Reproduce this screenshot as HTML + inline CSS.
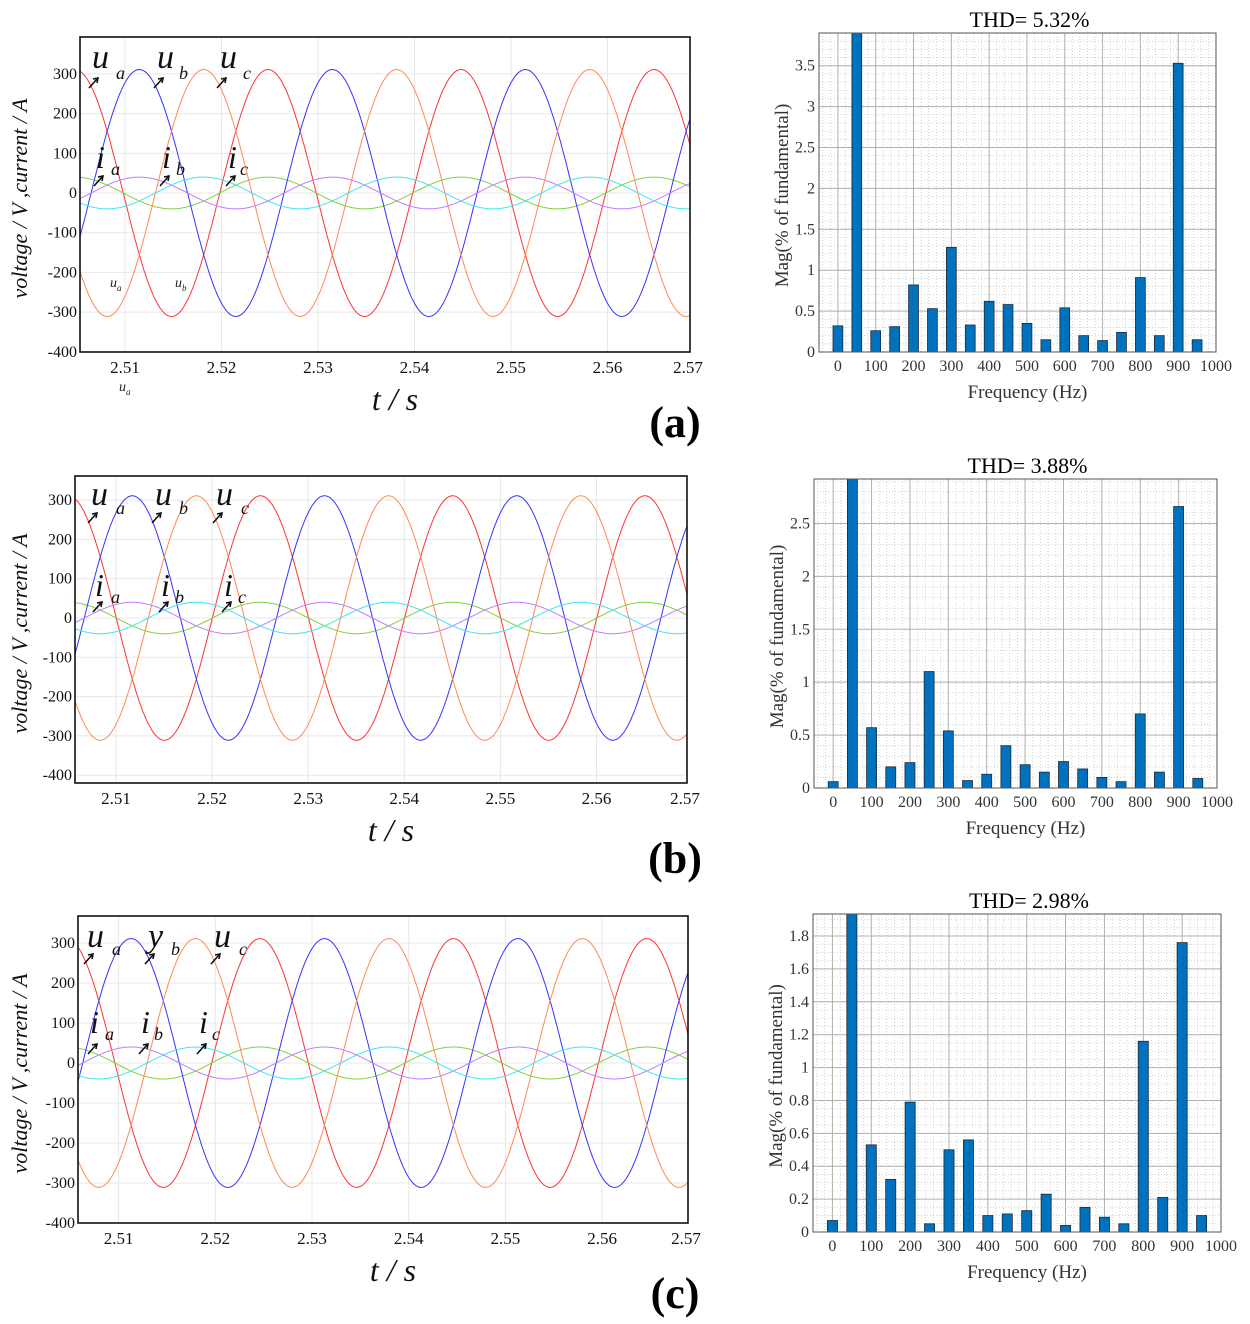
<!DOCTYPE html>
<html><head><meta charset="utf-8"><style>
html,body{margin:0;padding:0;background:#fff;}
svg{display:block;}
text{font-family:"Liberation Serif",serif;}
</style></head><body>
<svg id="fig" width="1250" height="1324" viewBox="0 0 1250 1324" xmlns="http://www.w3.org/2000/svg"></svg>
<script>
// ---------- data ----------
const timeTicks = [2.51, 2.52, 2.53, 2.54, 2.55, 2.56, 2.57];
const voltTicks = [300, 200, 100, 0, -100, -200, -300, -400];
const phaseNames = ['a', 'b', 'c'];
const voltageAmplitude = [311, 311, 311];
const currentAmplitude = [40, 40, 40];
const gridFrequency = [50, 50, 50];
const redPeakTime = [2.52482, 2.52503, 2.52462];   // time of a u_a peak per panel
const freqCategories = [0,50,100,150,200,250,300,350,400,450,500,550,600,650,700,750,800,850,900,950];
const freqTickLabels = [0,100,200,300,400,500,600,700,800,900,1000];
const magA = [0.32,100,0.26,0.31,0.82,0.53,1.28,0.33,0.62,0.58,0.35,0.15,0.54,0.20,0.14,0.24,0.91,0.20,3.53,0.15];
const magB = [0.06,100,0.57,0.20,0.24,1.10,0.54,0.07,0.13,0.40,0.22,0.15,0.25,0.18,0.10,0.06,0.70,0.15,2.66,0.09];
const magC = [0.07,100,0.53,0.32,0.79,0.05,0.50,0.56,0.10,0.11,0.13,0.23,0.04,0.15,0.09,0.05,1.16,0.21,1.76,0.10];
const thdLabels = ['THD= 5.32%','THD= 3.88%','THD= 2.98%'];
const magTicksA = [0,0.5,1,1.5,2,2.5,3,3.5];
const magTicksB = [0,0.5,1,1.5,2,2.5];
const magTicksC = [0,0.2,0.4,0.6,0.8,1,1.2,1.4,1.6,1.8];

const NS='http://www.w3.org/2000/svg';
const svg=document.getElementById('fig');
function mk(tag, attrs, parent){const e=document.createElementNS(NS,tag);for(const k in attrs)e.setAttribute(k,attrs[k]);(parent||svg).appendChild(e);return e;}
function txt(s, attrs, parent){const e=mk('text',attrs,parent);e.textContent=s;return e;}

// ---------- waveform panels ----------
const leftGeo=[
 {L:80,R:690,T:37,B:352,y0:193,ky:0.397,x0:125,kx:9650,letter:'(a)',ly:437},
 {L:75,R:687,T:476,B:783,y0:618,ky:0.393,x0:116,kx:9610,letter:'(b)',ly:873},
 {L:78,R:688,T:916,B:1223,y0:1063,ky:0.400,x0:118.6,kx:9670,letter:'(c)',ly:1308}
];
const vColors=['#ff3333','#3333ff','#ff8a55'];
const iColors=['#7fd23f','#c27cff','#3fe6ee'];
leftGeo.forEach((g,p)=>{
  const grp=mk('g',{});
  
  
  const xs=t=>g.x0+(t-2.51)*g.kx, ys=v=>g.y0-v*g.ky;
  const tMin=2.51+(g.L-g.x0)/g.kx, tMax=2.51+(g.R-g.x0)/g.kx;
  const cid='clipL'+p;
  const cp=mk('clipPath',{id:cid},grp); mk('rect',{x:g.L,y:g.T,width:g.R-g.L,height:g.B-g.T},cp);
  voltTicks.forEach(v=>{
    const l=mk('line',{x1:g.L,x2:g.R,y1:ys(v),y2:ys(v),stroke:'#e8e8e8','stroke-width':1},grp);
    
    
    const t=txt(String(v),{x:g.L-3,y:ys(v)+5,'text-anchor':'end','font-size':16,fill:'#111'},grp);
    
    
  });
  timeTicks.forEach(tt=>{
    const x=Math.min(xs(tt),g.R);
    if(xs(tt)<g.R){const l=mk('line',{x1:x,x2:x,y1:g.T,y2:g.B,stroke:'#e8e8e8','stroke-width':1},grp);
    
    }
    const t=txt(tt.toFixed(2),{x:Math.min(xs(tt),g.R-2),y:g.B+21,'text-anchor':'middle','font-size':17,fill:'#111'},grp);
    
    
  });
  const plot=mk('g',{'clip-path':'url(#'+cid+')'},grp);
  const w=2*Math.PI*gridFrequency[p];
  for(let k=0;k<3;k++){
    const shift=k*(1/gridFrequency[p])/3;
    [['voltage',voltageAmplitude[p],vColors[k]],['current',currentAmplitude[p],iColors[k]]].forEach(([kind,A,col])=>{
      let d='';
      for(let i=0;i<=600;i++){
        const t=tMin+(tMax-tMin)*i/600;
        const v=A*Math.cos(w*(t-redPeakTime[p]-shift));
        d+=(i?'L':'M')+xs(t).toFixed(1)+' '+ys(v).toFixed(1);
      }
      const path=mk('path',{d:d,fill:'none',stroke:col,'stroke-width':1},plot);
      
      
    });
  }
  const fr=mk('rect',{x:g.L,y:g.T,width:g.R-g.L,height:g.B-g.T,fill:'none',stroke:'#111','stroke-width':1.6},grp);
  
  
  const yt=txt('voltage / V ,current / A',{x:0,y:0,'font-size':22,'font-style':'italic',fill:'#111','text-anchor':'middle',transform:'translate(27,'+((g.T+g.B)/2+4)+') rotate(-90)'},grp);
  
  
  const xt=txt('t / s',{x:(g.L+g.R)/2+10,y:g.B+58,'font-size':32,'font-style':'italic','text-anchor':'middle',fill:'#111'},grp);
  
  
  const lt=txt(g.letter,{x:675,y:g.ly,'font-size':44,'font-weight':'bold','text-anchor':'middle',fill:'#000'},grp);
  
  
});

// phase annotations (u, i labels with small arrows)
const annot=[
 {u:[[92,68],[157,68],[220,68]], us:[[116,79],[179,79],[243,79]], i:[[96,168],[162,168],[228,168]], is:[[111,175],[176,175],[240,175]], ay:[82,180]},
 {u:[[91,505],[155,505],[216,505]], us:[[116,514],[179,514],[241,514]], i:[[95,596],[161,596],[224,596]], is:[[111,603],[175,603],[238,603]], ay:[517,606]},
 {u:[[87,947],[148,947],[214,947]], us:[[112,955],[171,955],[239,955]], i:[[90,1033],[141,1033],[199,1033]], is:[[105,1040],[154,1040],[212,1040]], ay:[958,1048]}
];
annot.forEach((a,p)=>{
  for(let k=0;k<3;k++){
    const uu=txt(k==1&&p==2?'y':'u',{x:a.u[k][0],y:a.u[k][1],'font-size':34,'font-style':'italic',fill:'#111'});
    
    
    const us=txt(phaseNames[k],{x:a.us[k][0],y:a.us[k][1],'font-size':18,'font-style':'italic',fill:'#111'});
    
    
    const ii=txt('i',{x:a.i[k][0],y:a.i[k][1],'font-size':32,'font-style':'italic',fill:'#111'});
    
    
    const is=txt(phaseNames[k],{x:a.is[k][0],y:a.is[k][1],'font-size':18,'font-style':'italic',fill:'#111'});
    
    
    [[a.u[k][0],a.ay[0]],[a.i[k][0]+1,a.ay[1]]].forEach(([x,y])=>{
      const ar=mk('path',{d:'M'+(x-3)+' '+(y+6)+'L'+(x+5)+' '+(y-3)+'M'+(x+1)+' '+(y-3)+'L'+(x+6)+' '+(y-4)+'L'+(x+5)+' '+(y+1),stroke:'#111','stroke-width':1.6,fill:'none'});
      
      
    });
  }
});
[['u',110,287,'a'],['u',175,287,'b'],['u',119,391,'a']].forEach(([s,x,y,sub])=>{
  const t=txt(s,{x:x,y:y,'font-size':14,'font-style':'italic',fill:'#222'});
  
  
  const t2=txt(sub,{x:x+7,y:y+4,'font-size':9,'font-style':'italic',fill:'#222'});
  
  
});

// ---------- spectrum panels ----------
const rightGeo=[
 {L:819,R:1216,T:33,B:352,ymax:3.9,vals:magA,ticks:magTicksA,minor:0.1},
 {L:814,R:1217,T:479,B:788,ymax:2.92,vals:magB,ticks:magTicksB,minor:0.1},
 {L:813,R:1221,T:914,B:1232,ymax:1.934,vals:magC,ticks:magTicksC,minor:0.05}
];
rightGeo.forEach((g,p)=>{
  const grp=mk('g',{});
  
  
  const xs=f=>g.L+(f+50)/1050*(g.R-g.L), ys=v=>g.B-v/g.ymax*(g.B-g.T);
  const cid='clipR'+p;
  const cp=mk('clipPath',{id:cid},grp); mk('rect',{x:g.L,y:g.T,width:g.R-g.L,height:g.B-g.T},cp);
  mk('rect',{x:g.L,y:g.T,width:g.R-g.L,height:g.B-g.T,fill:'#fff'},grp);
  const gg=mk('g',{'clip-path':'url(#'+cid+')'},grp);
  for(let f=-40;f<1000;f+=20){ if(f%100===0) continue;
    mk('line',{x1:xs(f),x2:xs(f),y1:g.T,y2:g.B,stroke:'#c8c8c8','stroke-width':0.8,'stroke-dasharray':'1 2'},gg);}
  for(let v=g.minor;v<g.ymax;v+=g.minor){
    mk('line',{x1:g.L,x2:g.R,y1:ys(v),y2:ys(v),stroke:'#c8c8c8','stroke-width':0.8,'stroke-dasharray':'1 2'},gg);}
  freqTickLabels.forEach(f=>{
    const l=mk('line',{x1:xs(f),x2:xs(f),y1:g.T,y2:g.B,stroke:'#b0b0b0','stroke-width':1},gg);
    
    
    const t=txt(String(f),{x:xs(f),y:g.B+19,'text-anchor':'middle','font-size':16,fill:'#333'},grp);
    
    
  });
  g.ticks.forEach(v=>{
    const l=mk('line',{x1:g.L,x2:g.R,y1:ys(v),y2:ys(v),stroke:'#b0b0b0','stroke-width':1},gg);
    
    
    const t=txt(String(v),{x:g.L-4,y:ys(v)+5,'text-anchor':'end','font-size':16,fill:'#333'},grp);
    
    
  });
  const bw=(g.R-g.L)/1050*26;
  freqCategories.forEach((f,i)=>{
    const v=g.vals[i], y=Math.max(ys(v),g.T);
    const b=mk('rect',{x:xs(f)-bw/2,y:y,width:bw,height:g.B-y,fill:'#0072bd',stroke:'#1a2a3a','stroke-width':0.8},gg);
    
    
  });
  const fr=mk('rect',{x:g.L,y:g.T,width:g.R-g.L,height:g.B-g.T,fill:'none',stroke:'#555','stroke-width':1},grp);
  
  
  const tt=txt(thdLabels[p],{x:(g.L+g.R)/2+12,y:g.T-6,'text-anchor':'middle','font-size':22,fill:'#000'},grp);
  
  
  const xt=txt('Frequency (Hz)',{x:(g.L+g.R)/2+10,y:g.B+46,'text-anchor':'middle','font-size':19,fill:'#333'},grp);
  
  
  const yt=txt('Mag(% of fundamental)',{x:0,y:0,'text-anchor':'middle','font-size':19,fill:'#333',transform:'translate('+(g.L-31)+','+((g.T+g.B)/2+3)+') rotate(-90)'},grp);
  
  
});
</script>
</body></html>
